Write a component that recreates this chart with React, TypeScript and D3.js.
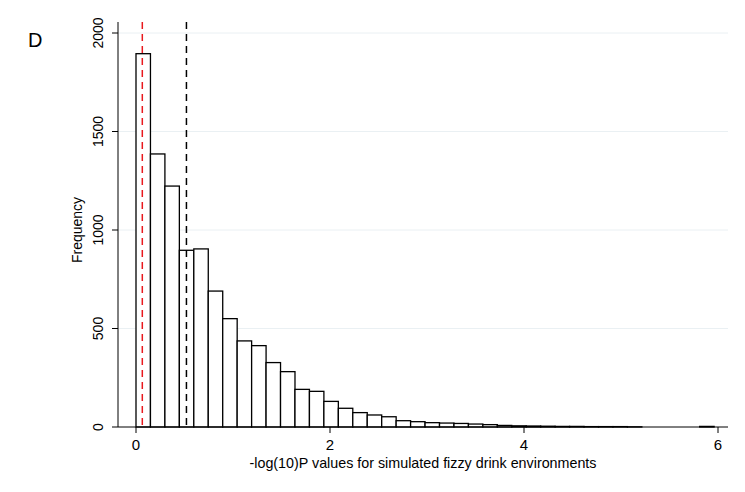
import * as d3 from "d3";

const binWidth = 0.149;
const counts = [1895, 1386, 1223, 897, 904, 690, 550, 437, 413, 327, 281, 191, 181, 130, 95, 73, 61, 52, 32, 27, 22, 20, 18, 15, 12, 8, 6, 5, 4, 3, 3, 2, 2, 2, 1, 0, 0, 0, 0, 3];
const yTicks = [0, 500, 1000, 1500, 2000];
const xTicks = [0, 2, 4, 6];
const redLine = 0.065;
const blackLine = 0.52;

export default function App() {
  const W = 745, H = 492;
  const x = d3.scaleLinear().domain([0, 6]).range([136, 718]);
  const y = d3.scaleLinear().domain([0, 2000]).range([427, 33]);
  const font = "Liberation Sans, Arial, sans-serif";
  return (
    <svg width={W} height={H} style={{ position: "absolute", left: 0, top: 0 }}>
      <rect width={W} height={H} fill="#fff" />
      <text x={28} y={47} fontSize={20} fontFamily={font}>D</text>
      {yTicks.map((t) => (
        <g key={t}>
          {t > 0 && <line x1={118} x2={728} y1={y(t)} y2={y(t)} stroke="#eaf0f3" strokeWidth={1} />}
          <line x1={112} x2={118} y1={y(t)} y2={y(t)} stroke="#000" />
          <text transform={`translate(103,${y(t)}) rotate(-90)`} textAnchor="middle" fontSize={14} fontFamily={font}>{t}</text>
        </g>
      ))}
      <text transform={`translate(82,230) rotate(-90)`} textAnchor="middle" fontSize={14} fontFamily={font}>Frequency</text>
      {counts.map((c, i) => c > 0 && (
        <rect key={i} x={x(i * binWidth)} y={y(c)} width={x(binWidth) - x(0)} height={y(0) - y(c)} fill="#fff" stroke="#000" strokeWidth={1.3} />
      ))}
      <line x1={x(redLine)} x2={x(redLine)} y1={22} y2={427} stroke="#e8191e" strokeWidth={1.5} strokeDasharray="7,5" />
      <line x1={x(blackLine)} x2={x(blackLine)} y1={22} y2={427} stroke="#000" strokeWidth={1.5} strokeDasharray="7,5" />
      <line x1={118} x2={118} y1={22} y2={427} stroke="#000" />
      <line x1={118} x2={728} y1={427} y2={427} stroke="#000" />
      {xTicks.map((t) => (
        <g key={t}>
          <line x1={x(t)} x2={x(t)} y1={427} y2={433} stroke="#000" />
          <text x={x(t)} y={450} textAnchor="middle" fontSize={15} fontFamily={font}>{t}</text>
        </g>
      ))}
      <text x={423} y={468} textAnchor="middle" fontSize={14.3} fontFamily={font}>-log(10)P values for simulated fizzy drink environments</text>
    </svg>
  );
}
